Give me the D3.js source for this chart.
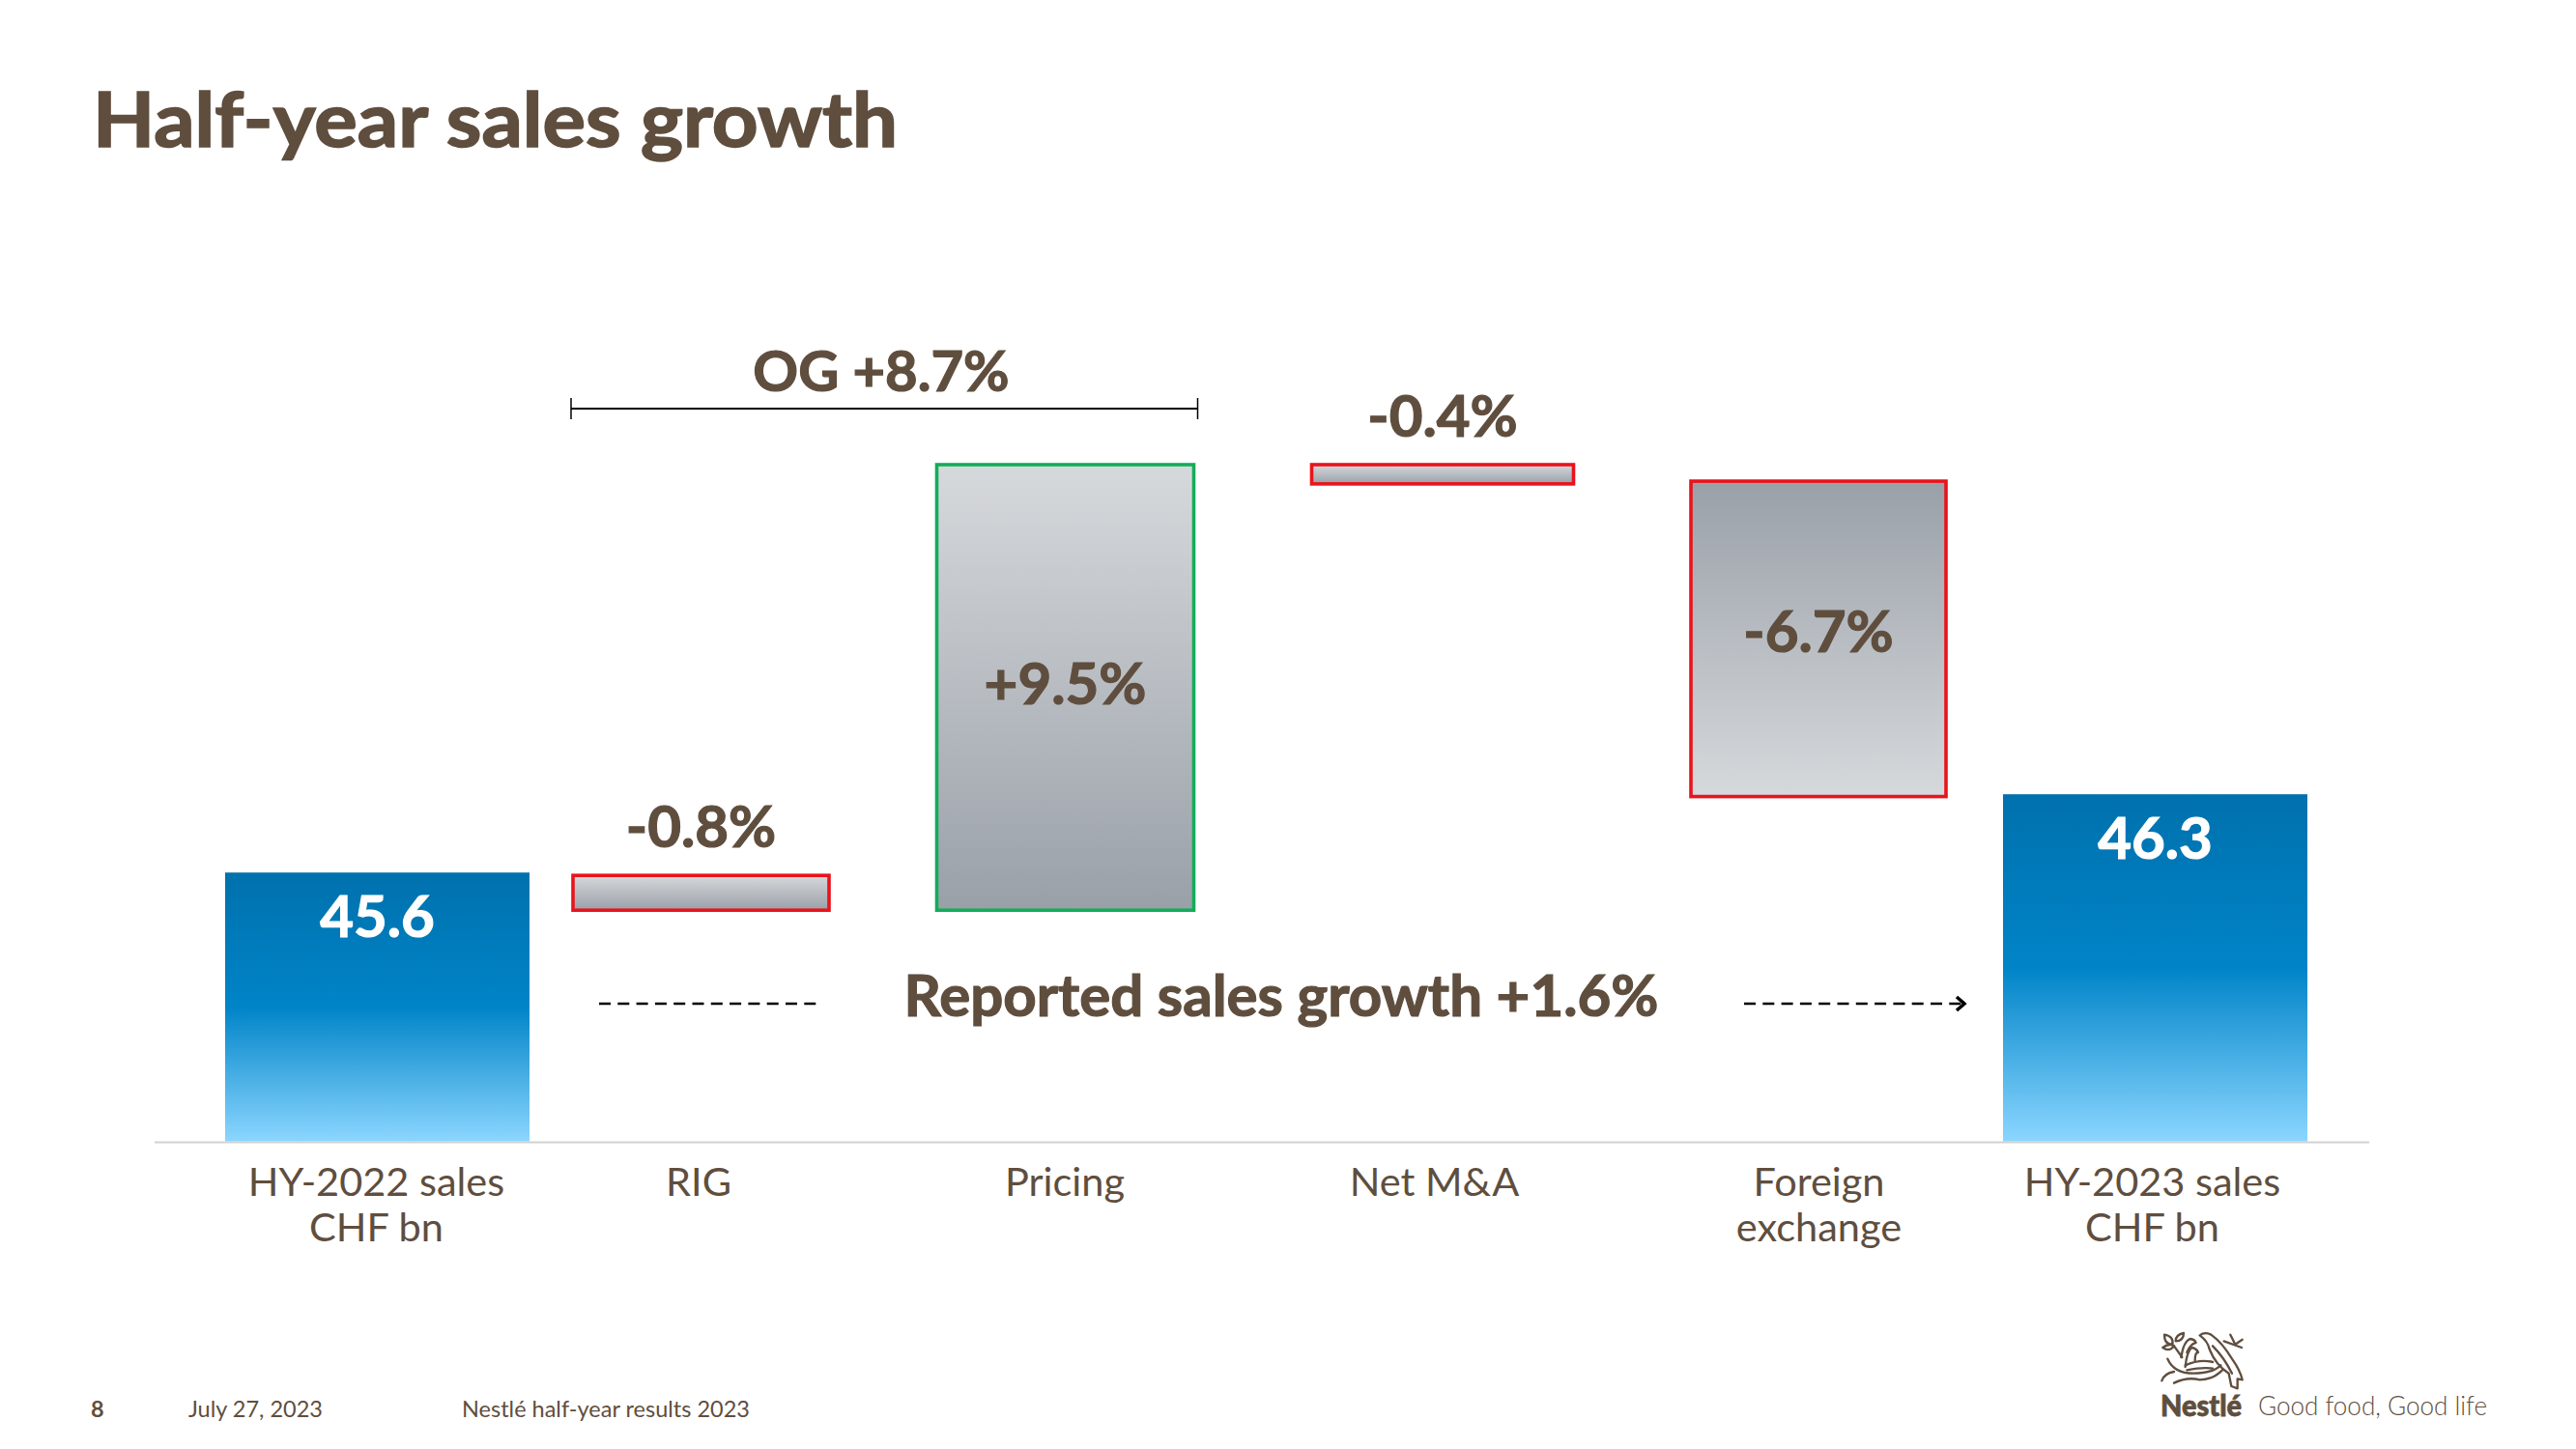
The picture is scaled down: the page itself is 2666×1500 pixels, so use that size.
<!DOCTYPE html>
<html>
<head>
<meta charset="utf-8">
<title>Half-year sales growth</title>
<script src="https://cdn.jsdelivr.net/npm/d3@7"></script>
<style>
  html, body { margin: 0; padding: 0; background: #fff; }
  svg { display: block; font-family: Lato, sans-serif; }
</style>
</head>
<body>
<div id="chart"></div>
<script>
// ── Data ─────────────────────────────────────
const categories = ["HY-2022 sales", "RIG", "Pricing", "Net M&A", "Foreign exchange", "HY-2023 sales"];
const tickLines  = [["HY-2022 sales", "CHF bn"], ["RIG"], ["Pricing"], ["Net M&A"], ["Foreign", "exchange"], ["HY-2023 sales", "CHF bn"]];
const barLabels  = ["45.6", "-0.8%", "+9.5%", "-0.4%", "-6.7%", "46.3"];
const barKinds   = ["total", "down", "up", "down", "down", "total"];
// bar ends as drawn on the slide, in points of growth above the (cut) baseline
const barLow     = [0, 4.86, 4.86, 13.90, 7.27, 0];
const barHigh    = [5.70, 5.68, 14.39, 14.39, 14.04, 7.36];

const TITLE     = "Half-year sales growth";
const OG_LABEL  = "OG +8.7%";
const REPORTED  = "Reported sales growth +1.6%";
const FOOT_PAGE = "8";
const FOOT_DATE = "July 27, 2023";
const FOOT_NAME = "Nestlé half-year results 2023";

// ── Layout ───────────────────────────────────
const W = 2666, H = 1500;
const BROWN = "#5f4e3e";
const baseY = 1181.5;

const y = d3.scaleLinear().domain([0, 14.39]).range([baseY, 479]);
const xCenter = d3.scaleOrdinal().domain(categories).range([390.5, 725.5, 1102.5, 1493, 1882, 2230.5]);
const xWidth  = d3.scaleOrdinal().domain(categories).range([315, 269, 270, 275, 268, 315]);
const xTick   = d3.scaleOrdinal().domain(categories).range([389, 722.5, 1101.5, 1484, 1882, 2227]);

const rows = categories.map((c, i) => ({
  cat: c, low: barLow[i], high: barHigh[i], kind: barKinds[i], label: barLabels[i]
}));

const svg = d3.select("#chart").append("svg")
  .attr("width", W).attr("height", H)
  .attr("viewBox", `0 0 ${W} ${H}`);

// ── Gradients ────────────────────────────────
const defs = svg.append("defs");
function addGrad(id, stops) {
  const g = defs.append("linearGradient").attr("id", id)
    .attr("x1", 0).attr("y1", 0).attr("x2", 0).attr("y2", 1);
  stops.forEach(s => g.append("stop").attr("offset", s[0]).attr("stop-color", s[1]));
}
addGrad("grad-total", [[0, "#0071ad"], [0.5, "#0084c8"], [1, "#8bd6ff"]]);
addGrad("grad-light-top", [[0, "#d6d9dc"], [1, "#9aa0a8"]]);
addGrad("grad-dark-top", [[0, "#9aa0a8"], [1, "#d6d9dc"]]);

// heavier than Lato Bold, the slide font is a bit fatter
const bold = (sel, w) => sel
  .attr("font-weight", 700)
  .attr("stroke", "currentColor")
  .attr("stroke-width", w);

// ── Title ────────────────────────────────────
svg.append("text")
  .attr("x", 96).attr("y", 152)
  .attr("fill", BROWN).style("color", BROWN)
  .attr("font-size", 78)
  .attr("textLength", 833).attr("lengthAdjust", "spacingAndGlyphs")
  .call(bold, 1.6)
  .text(TITLE);

// ── Baseline + axis ──────────────────────────
svg.append("line")
  .attr("x1", 160).attr("x2", 2452)
  .attr("y1", baseY + 1).attr("y2", baseY + 1)
  .attr("stroke", "#d2d2d2").attr("stroke-width", 2);

const axis = svg.append("g")
  .attr("transform", `translate(0,${baseY})`)
  .call(d3.axisBottom(xTick).tickSize(0).tickPadding(0));
axis.select(".domain").remove();
axis.selectAll(".tick text").each(function (d) {
  const lines = tickLines[categories.indexOf(d)];
  const t = d3.select(this).text(null)
    .attr("y", 56).attr("dy", null)
    .attr("fill", BROWN).attr("font-size", 41.5)
    .attr("font-family", "Lato, sans-serif");
  lines.forEach((l, i) => t.append("tspan")
    .attr("x", 0).attr("dy", i ? 47 : 0).text(l));
});

// ── Bars ─────────────────────────────────────
const barFill = d => d.kind === "total" ? "url(#grad-total)"
  : d.kind === "up" || d.cat === "RIG" || d.cat === "Net M&A" ? "url(#grad-light-top)"
  : "url(#grad-dark-top)";

svg.selectAll("rect.bar").data(rows).join("rect")
  .attr("class", "bar")
  .attr("x", d => xCenter(d.cat) - xWidth(d.cat) / 2 + (d.kind === "total" ? 0 : 2))
  .attr("width", d => xWidth(d.cat) - (d.kind === "total" ? 0 : 4))
  .attr("y", d => y(d.high) + (d.kind === "total" ? 0 : 2))
  .attr("height", d => y(d.low) - y(d.high) - (d.kind === "total" ? 0 : 4))
  .attr("fill", barFill)
  .attr("stroke", d => d.kind === "up" ? "#12ad5a" : d.kind === "down" ? "#e8141c" : "none")
  .attr("stroke-width", 3.6);

// ── Bar labels ───────────────────────────────
const labelY = d => {
  if (d.kind === "total") return y(d.high) + 67;
  if (y(d.low) - y(d.high) < 60) return y(d.high) - 27;
  return (y(d.low) + y(d.high)) / 2 + (d.kind === "up" ? 17 : 14);
};
svg.selectAll("text.val").data(rows).join("text")
  .attr("class", "val")
  .attr("x", d => xCenter(d.cat))
  .attr("y", labelY)
  .attr("text-anchor", "middle")
  .attr("fill", d => d.kind === "total" ? "#fff" : BROWN)
  .style("color", d => d.kind === "total" ? "#fff" : BROWN)
  .attr("font-size", 60)
  .call(bold, 1.2)
  .text(d => d.label);

// ── OG bracket ───────────────────────────────
const bracketX0 = xCenter("RIG") - xWidth("RIG") / 2;
const bracketX1 = xCenter("Pricing") + xWidth("Pricing") / 2 + 2;
svg.append("line")
  .attr("x1", bracketX0).attr("x2", bracketX1).attr("y1", 423).attr("y2", 423)
  .attr("stroke", "#000").attr("stroke-width", 2);
[bracketX0, bracketX1].forEach(x => svg.append("line")
  .attr("x1", x).attr("x2", x).attr("y1", 412).attr("y2", 434)
  .attr("stroke", "#000").attr("stroke-width", 1.5));
svg.append("text")
  .attr("x", 912).attr("y", 405)
  .attr("text-anchor", "middle")
  .attr("fill", BROWN).style("color", BROWN)
  .attr("font-size", 58)
  .call(bold, 1.2)
  .text(OG_LABEL);

// ── Reported growth + dashed lines ───────────
svg.append("text")
  .attr("x", 1326).attr("y", 1052)
  .attr("text-anchor", "middle")
  .attr("fill", BROWN).style("color", BROWN)
  .attr("font-size", 60)
  .call(bold, 1.2)
  .text(REPORTED);

svg.append("line")
  .attr("x1", 620).attr("x2", 848).attr("y1", 1039).attr("y2", 1039)
  .attr("stroke", "#000").attr("stroke-width", 2.5).attr("stroke-dasharray", "12 7.3");
svg.append("line")
  .attr("x1", 1805).attr("x2", 2030).attr("y1", 1039).attr("y2", 1039)
  .attr("stroke", "#000").attr("stroke-width", 2.5).attr("stroke-dasharray", "12 7.3");
svg.append("path")
  .attr("d", "M2025,1032 L2033,1039 L2025,1046")
  .attr("fill", "none").attr("stroke", "#000").attr("stroke-width", 3.5);

// ── Footer ───────────────────────────────────
const foot = svg.append("g").attr("fill", BROWN).attr("font-size", 23.5);
foot.append("text").attr("x", 94).attr("y", 1467).attr("font-weight", 700).text(FOOT_PAGE);
foot.append("text").attr("x", 195).attr("y", 1467).text(FOOT_DATE);
foot.append("text").attr("x", 478).attr("y", 1467).text(FOOT_NAME);

// ── Logo ─────────────────────────────────────
const logo = svg.append("g")
  .attr("transform", "translate(2150,1350) scale(0.3333)")
  .attr("fill", "none").attr("stroke", BROWN).attr("stroke-width", 7)
  .attr("stroke-linecap", "round").attr("stroke-linejoin", "round");
[
  "M380 97 Q395 85 415 95 Q450 120 480 170 Q505 205 512 235 L497 232 L497 262 L478 255 L470 215 Q430 190 410 140 Q405 115 380 97 Z",
  "M420 130 Q455 165 480 215",
  "M322 165 Q330 115 350 108 Q365 110 368 120 Q350 125 340 150",
  "M335 195 Q340 145 355 135 Q370 138 375 150 Q365 150 365 175",
  "M270 95 Q300 100 295 125 Q270 125 270 95",
  "M305 115 Q305 95 330 90 Q330 115 305 115",
  "M265 135 Q285 120 300 130 Q285 150 265 135",
  "M300 130 L325 165",
  "M455 115 L510 135 M475 95 L490 125 M490 125 L512 110",
  "M280 170 Q300 215 360 215 Q420 215 445 190",
  "M262 238 Q270 215 300 210",
  "M300 245 Q340 225 380 235 Q420 235 450 205",
  "M335 190 Q380 170 420 180",
  "M340 205 Q390 195 420 200"
].forEach(d => logo.append("path").attr("d", d));

svg.append("text")
  .attr("x", 2236).attr("y", 1466)
  .attr("fill", BROWN).style("color", BROWN)
  .attr("font-size", 31).attr("font-weight", 900)
  .attr("stroke", BROWN).attr("stroke-width", 0.8)
  .attr("textLength", 84).attr("lengthAdjust", "spacingAndGlyphs")
  .text("Nestlé");
svg.append("text")
  .attr("x", 2337).attr("y", 1465)
  .attr("fill", BROWN).attr("font-size", 27).attr("font-weight", 300)
  .attr("textLength", 237).attr("lengthAdjust", "spacingAndGlyphs")
  .text("Good food, Good life");
</script>
</body>
</html>
